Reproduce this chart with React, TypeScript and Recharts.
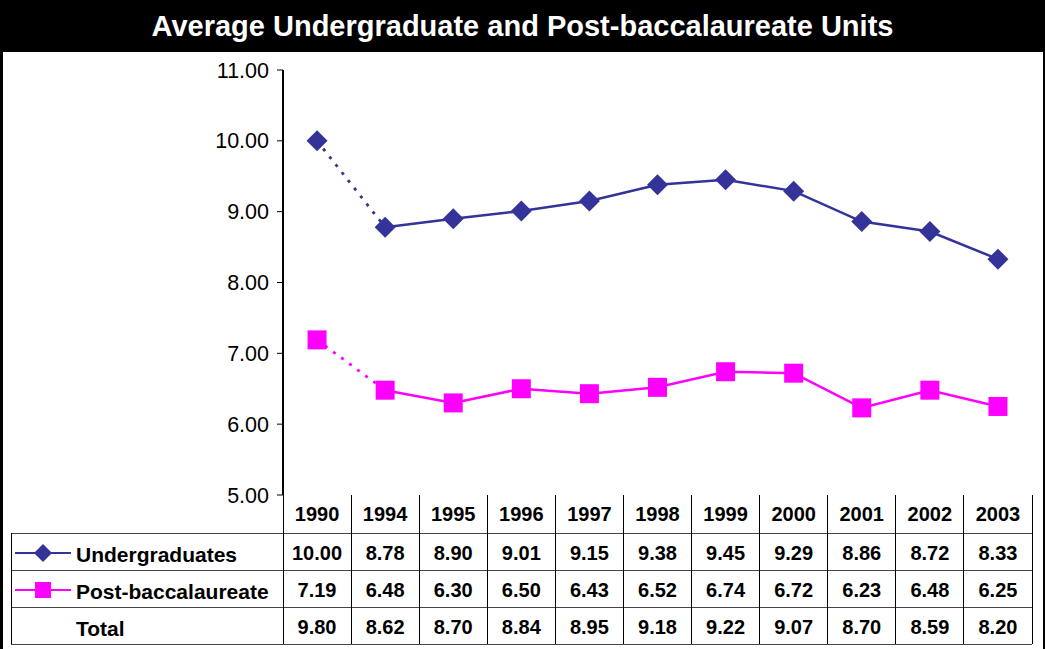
import * as React from "react";
import { Line, LineChart, XAxis, YAxis } from "recharts";

const years = ["1990", "1994", "1995", "1996", "1997", "1998", "1999", "2000", "2001", "2002", "2003"];
const undergrad = [10.0, 8.78, 8.9, 9.01, 9.15, 9.38, 9.45, 9.29, 8.86, 8.72, 8.33];
const postBacc = [7.19, 6.48, 6.3, 6.5, 6.43, 6.52, 6.74, 6.72, 6.23, 6.48, 6.25];
const total = [9.8, 8.62, 8.7, 8.84, 8.95, 9.18, 9.22, 9.07, 8.7, 8.59, 8.2];
const yTicks = [5, 6, 7, 8, 9, 10, 11];

const NAVY = "#333399";
const MAGENTA = "#FF00FF";
const FONT = '"Liberation Sans", Arial, sans-serif';

// first segment (1990 -> 1994) is dotted, the rest solid
const data = years.map((year, i) => ({
  year,
  ug: undergrad[i],
  pb: postBacc[i],
  ugHead: i <= 1 ? undergrad[i] : null,
  ugTail: i >= 1 ? undergrad[i] : null,
  pbHead: i <= 1 ? postBacc[i] : null,
  pbTail: i >= 1 ? postBacc[i] : null,
}));

const PLOT_LEFT = 283;
const PLOT_RIGHT = 1032;
const PLOT_TOP = 70;
const PLOT_BOTTOM = 495;
const COL_W = (PLOT_RIGHT - PLOT_LEFT) / years.length;

const Diamond = (props: any) => {
  const { cx, cy, index } = props;
  if (cx == null || cy == null) return <g key={`d${index}`} />;
  const r = 10.5;
  return (
    <path
      key={`d${index}`}
      d={`M${cx},${cy - r}L${cx + r},${cy}L${cx},${cy + r}L${cx - r},${cy}Z`}
      fill={NAVY}
    />
  );
};

const Square = (props: any) => {
  const { cx, cy, index } = props;
  if (cx == null || cy == null) return <g key={`s${index}`} />;
  const h = 9.5;
  return <rect key={`s${index}`} x={cx - h} y={cy - h} width={h * 2} height={h * 2} fill={MAGENTA} />;
};

const rows = [
  { label: "Undergraduates", values: undergrad, icon: "diamond" },
  { label: "Post-baccalaureate", values: postBacc, icon: "square" },
  { label: "Total", values: total, icon: "" },
];

const HEADER_TOP = 495;
const ROW_TOPS = [533, 570, 607];
const TABLE_BOTTOM = 644;

function LegendIcon({ kind }: { kind: string }) {
  if (!kind) return null;
  const color = kind === "diamond" ? NAVY : MAGENTA;
  return (
    <svg width={60} height={20} style={{ position: "absolute", left: 4, top: 10 }}>
      <line x1={0} y1={10} x2={56} y2={10} stroke={color} strokeWidth={2} />
      {kind === "diamond" ? (
        <path d="M28,1L37,10L28,19L19,10Z" fill={color} />
      ) : (
        <rect x={20} y={2} width={16} height={16} fill={color} />
      )}
    </svg>
  );
}

export default function App() {
  const hLines = [ROW_TOPS[0], ROW_TOPS[1], ROW_TOPS[2], TABLE_BOTTOM];
  const vLines = years.map((_, i) => PLOT_LEFT + i * COL_W).concat([PLOT_RIGHT]);
  return (
    <div
      style={{
        position: "absolute",
        left: 0,
        top: 0,
        width: 1045,
        height: 649,
        background: "#000",
        fontFamily: FONT,
        overflow: "hidden",
      }}
    >
      <div
        style={{
          position: "absolute",
          left: 0,
          top: 0,
          width: 1045,
          height: 52,
          color: "#fff",
          fontWeight: 700,
          fontSize: 29,
          display: "flex",
          alignItems: "center",
          justifyContent: "center",
        }}
      >
        Average Undergraduate and Post-baccalaureate Units
      </div>
      <div style={{ position: "absolute", left: 3, top: 52, width: 1040, height: 597, background: "#fff" }} />

      <div style={{ position: "absolute", left: 0, top: 0 }}>
        <LineChart
          width={1045}
          height={649}
          data={data}
          margin={{ top: PLOT_TOP, right: 1045 - PLOT_RIGHT, bottom: 649 - PLOT_BOTTOM, left: 0 }}
        >
          <XAxis
            dataKey="year"
            height={0}
            tick={false}
            tickLine={false}
            axisLine={{ stroke: "#000", strokeWidth: 2 }}
            padding={{ left: COL_W / 2, right: COL_W / 2 }}
          />
          <XAxis
            xAxisId="top"
            dataKey="year"
            orientation="top"
            height={0}
            tick={false}
            tickLine={false}
            axisLine={{ stroke: "#8c8c8c", strokeWidth: 2 }}
          />
          <YAxis
            width={PLOT_LEFT}
            domain={[5, 11]}
            ticks={yTicks}
            interval={0}
            tickFormatter={(v: number) => v.toFixed(2)}
            tick={{ fontSize: 21.5, fill: "#000", fontFamily: FONT }}
            tickSize={6}
            tickMargin={8}
            tickLine={{ stroke: "#000" }}
            axisLine={{ stroke: "#000", strokeWidth: 2 }}
          />
          <YAxis
            yAxisId="right"
            orientation="right"
            width={0}
            domain={[5, 11]}
            tick={false}
            tickLine={false}
            axisLine={{ stroke: "#8c8c8c", strokeWidth: 2 }}
          />
          <Line dataKey="ugHead" stroke={NAVY} strokeWidth={2.8} strokeDasharray="3 7" dot={false} isAnimationActive={false} />
          <Line dataKey="ugTail" stroke={NAVY} strokeWidth={2.5} dot={false} isAnimationActive={false} />
          <Line dataKey="ug" stroke="none" dot={Diamond} activeDot={false} isAnimationActive={false} />
          <Line dataKey="pbHead" stroke={MAGENTA} strokeWidth={2.8} strokeDasharray="3 7" dot={false} isAnimationActive={false} />
          <Line dataKey="pbTail" stroke={MAGENTA} strokeWidth={2.5} dot={false} isAnimationActive={false} />
          <Line dataKey="pb" stroke="none" dot={Square} activeDot={false} isAnimationActive={false} />
        </LineChart>
      </div>

      {/* data table */}
      {years.map((y, i) => (
        <div
          key={y}
          style={{
            position: "absolute",
            left: PLOT_LEFT + i * COL_W,
            top: HEADER_TOP,
            width: COL_W,
            height: ROW_TOPS[0] - HEADER_TOP,
            display: "flex",
            alignItems: "center",
            justifyContent: "center",
            fontWeight: 700,
            fontSize: 20,
            color: "#000",
          }}
        >
          {y}
        </div>
      ))}
      {rows.map((r, ri) => (
        <React.Fragment key={r.label}>
          <div
            style={{
              position: "absolute",
              left: 11,
              top: ROW_TOPS[ri],
              width: PLOT_LEFT - 11,
              height: 37,
            }}
          >
            <LegendIcon kind={r.icon} />
            <div
              style={{
                position: "absolute",
                left: 65,
                top: 3,
                height: 37,
                display: "flex",
                alignItems: "center",
                fontWeight: 700,
                fontSize: 21,
                color: "#000",
                whiteSpace: "nowrap",
              }}
            >
              {r.label}
            </div>
          </div>
          {r.values.map((v, i) => (
            <div
              key={i}
              style={{
                position: "absolute",
                left: PLOT_LEFT + i * COL_W,
                top: ROW_TOPS[ri] + 2,
                width: COL_W,
                height: 37,
                display: "flex",
                alignItems: "center",
                justifyContent: "center",
                fontWeight: 700,
                fontSize: 20,
                color: "#000",
              }}
            >
              {v.toFixed(2)}
            </div>
          ))}
        </React.Fragment>
      ))}
      {hLines.map((y) => (
        <div key={`h${y}`} style={{ position: "absolute", left: 11, top: y, width: PLOT_RIGHT - 11, height: 1, background: "#444" }} />
      ))}
      {vLines.map((x, i) => (
        <div key={`v${i}`} style={{ position: "absolute", left: x - 0.5, top: HEADER_TOP, width: 1, height: TABLE_BOTTOM - HEADER_TOP, background: "#000" }} />
      ))}
      <div style={{ position: "absolute", left: 11, top: ROW_TOPS[0], width: 1, height: TABLE_BOTTOM - ROW_TOPS[0], background: "#000" }} />
    </div>
  );
}
